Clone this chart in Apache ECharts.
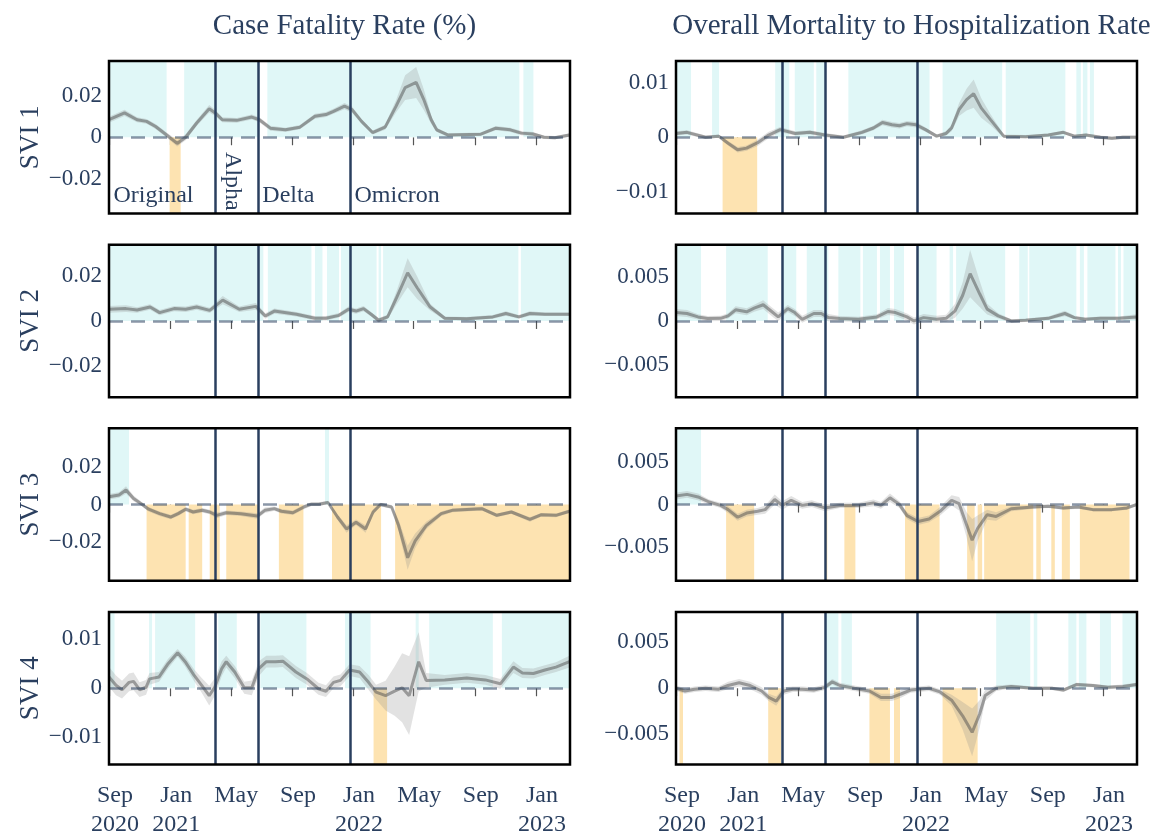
<!DOCTYPE html>
<html>
<head>
<meta charset="utf-8">
<script src="https://cdn.jsdelivr.net/npm/echarts@6/dist/echarts.min.js"></script>
<style>
  html, body { margin: 0; background: #fff; }
  #chart { width: 1163px; height: 836px; }
</style>
</head>
<body>
<div id="chart"></div>
<script>
// ---- data: [date, estimate, ci half width] ----
const colTitles = ['Case Fatality Rate (%)', 'Overall Mortality to Hospitalization Rate'];
const rowNames = ['SVI 1', 'SVI 2', 'SVI 3', 'SVI 4'];
const xTicks = ['2020-09-01', '2021-01-01', '2021-05-01', '2021-09-01', '2022-01-01', '2022-05-01', '2022-09-01', '2023-01-01'];
const xTickLabels = ['Sep\n2020', 'Jan\n2021', 'May', 'Sep', 'Jan\n2022', 'May', 'Sep', 'Jan\n2023'];
const variantDates = ['2021-04-01', '2021-06-24', '2021-12-25'];
const variantNames = ['Original', 'Alpha', 'Delta', 'Omicron'];

const cfrSvi1 = [
  ['2020-08-31', 0.0085, 0.0015], ['2020-10-01', 0.0118, 0.0015], ['2020-10-26', 0.0085, 0.0012],
  ['2020-11-14', 0.0077, 0.0012], ['2020-12-02', 0.0052, 0.0012], ['2020-12-24', 0.0011, 0.0012],
  ['2021-01-14', -0.003, 0.0015], ['2021-01-31', 0.0, 0.0015], ['2021-02-22', 0.0069, 0.0015],
  ['2021-03-19', 0.0138, 0.0018], ['2021-03-31', 0.0118, 0.0015], ['2021-04-14', 0.0085, 0.0012],
  ['2021-05-13', 0.0082, 0.0012], ['2021-06-12', 0.0098, 0.0012], ['2021-06-27', 0.0085, 0.0012],
  ['2021-07-19', 0.0044, 0.0012], ['2021-08-18', 0.0036, 0.001], ['2021-09-16', 0.0049, 0.001],
  ['2021-10-16', 0.0102, 0.0012], ['2021-11-07', 0.011, 0.0012], ['2021-11-22', 0.0126, 0.0012],
  ['2021-12-14', 0.0151, 0.0015], ['2021-12-29', 0.0134, 0.0015], ['2022-01-17', 0.0077, 0.0012],
  ['2022-02-08', 0.0023, 0.001], ['2022-03-05', 0.0049, 0.0012], ['2022-03-27', 0.0151, 0.003],
  ['2022-04-14', 0.0241, 0.006], ['2022-05-06', 0.0266, 0.0075], ['2022-05-21', 0.0184, 0.005],
  ['2022-06-05', 0.0085, 0.002], ['2022-06-16', 0.0036, 0.001], ['2022-07-08', 0.0011, 0.0008],
  ['2022-09-12', 0.0015, 0.0008], ['2022-10-12', 0.0044, 0.001], ['2022-11-10', 0.0036, 0.001],
  ['2022-12-02', 0.002, 0.001], ['2022-12-25', 0.0016, 0.001], ['2023-01-16', 0.0, 0.0008],
  ['2023-02-07', -0.0002, 0.0008], ['2023-03-08', 0.0011, 0.0008]
];
const mhrSvi1 = [
  ['2020-08-31', 0.0007, 0.0004], ['2020-09-22', 0.0009, 0.0004], ['2020-10-29', 0.0, 0.0003],
  ['2020-11-24', 0.0002, 0.0003], ['2020-12-13', -0.0011, 0.0004], ['2021-01-01', -0.0023, 0.0005],
  ['2021-01-19', -0.002, 0.0005], ['2021-02-10', -0.001, 0.0006], ['2021-03-04', 0.0004, 0.0006],
  ['2021-03-27', 0.0014, 0.0005], ['2021-04-26', 0.0007, 0.0004], ['2021-05-25', 0.0009, 0.0004],
  ['2021-06-24', 0.0004, 0.0004], ['2021-07-31', 0.0, 0.0003], ['2021-09-06', 0.0009, 0.0004],
  ['2021-09-29', 0.0017, 0.0004], ['2021-10-17', 0.0027, 0.0005], ['2021-11-05', 0.0023, 0.0005],
  ['2021-11-20', 0.0021, 0.0005], ['2021-12-05', 0.0025, 0.0005], ['2021-12-23', 0.0023, 0.0005],
  ['2022-01-11', 0.0014, 0.0004], ['2022-02-02', 0.0002, 0.0003], ['2022-02-21', 0.0007, 0.0004],
  ['2022-03-04', 0.0017, 0.0006], ['2022-03-19', 0.0051, 0.0012], ['2022-04-03', 0.0069, 0.002],
  ['2022-04-17', 0.008, 0.0026], ['2022-05-02', 0.0054, 0.0018], ['2022-05-21', 0.0032, 0.001],
  ['2022-06-16', 0.0002, 0.0003], ['2022-07-30', 0.0001, 0.0003], ['2022-09-13', 0.0004, 0.0003],
  ['2022-10-13', 0.0009, 0.0003], ['2022-11-04', 0.0002, 0.0003], ['2022-11-27', 0.0004, 0.0003],
  ['2022-12-26', 0.0, 0.0003], ['2023-01-18', -0.0002, 0.0003], ['2023-02-09', 0.0, 0.0003],
  ['2023-03-08', 0.0, 0.0003]
];
const cfrSvi2 = [
  ['2020-08-31', 0.0052, 0.0015], ['2020-10-04', 0.0055, 0.0015], ['2020-10-26', 0.0049, 0.0012],
  ['2020-11-21', 0.0062, 0.0012], ['2020-12-10', 0.0037, 0.0012], ['2021-01-08', 0.0055, 0.0012],
  ['2021-01-31', 0.0052, 0.0012], ['2021-02-22', 0.0062, 0.0012], ['2021-03-20', 0.0047, 0.0012],
  ['2021-04-15', 0.0093, 0.0018], ['2021-05-18', 0.0052, 0.0012], ['2021-06-20', 0.0065, 0.0015],
  ['2021-07-09', 0.0022, 0.0012], ['2021-07-27', 0.0044, 0.0012], ['2021-09-09', 0.003, 0.001],
  ['2021-10-16', 0.0012, 0.001], ['2021-11-07', 0.0012, 0.001], ['2021-12-03', 0.0025, 0.001],
  ['2021-12-22', 0.0052, 0.0012], ['2022-01-06', 0.0044, 0.0012], ['2022-01-21', 0.0055, 0.0012],
  ['2022-02-05', 0.003, 0.001], ['2022-02-20', 0.0003, 0.001], ['2022-03-10', 0.0018, 0.001],
  ['2022-03-28', 0.0104, 0.003], ['2022-04-19', 0.0215, 0.0065], ['2022-05-08', 0.0148, 0.005],
  ['2022-06-03', 0.0062, 0.0015], ['2022-07-02', 0.0012, 0.0008], ['2022-08-15', 0.001, 0.0008],
  ['2022-10-06', 0.0018, 0.0008], ['2022-11-01', 0.0033, 0.001], ['2022-11-27', 0.0018, 0.0008],
  ['2022-12-19', 0.0033, 0.001], ['2023-01-18', 0.003, 0.0008], ['2023-03-08', 0.003, 0.0008]
];
const mhrSvi2 = [
  ['2020-08-31', 0.00096, 0.0004], ['2020-09-22', 0.00085, 0.0004], ['2020-10-14', 0.00046, 0.0003],
  ['2020-11-02', 0.00027, 0.0003], ['2020-11-28', 0.0003, 0.0003], ['2020-12-13', 0.00058, 0.0003],
  ['2020-12-28', 0.00127, 0.0004], ['2021-01-19', 0.00104, 0.0004], ['2021-02-03', 0.00146, 0.0004],
  ['2021-02-21', 0.00185, 0.0005], ['2021-03-08', 0.00116, 0.0005], ['2021-03-23', 0.00046, 0.0005],
  ['2021-04-11', 0.00142, 0.0004], ['2021-04-25', 0.00096, 0.0004], ['2021-05-10', 0.00019, 0.0004],
  ['2021-06-02', 0.00085, 0.0004], ['2021-06-17', 0.00085, 0.0004], ['2021-07-01', 0.00038, 0.0004],
  ['2021-07-24', 0.00027, 0.0003], ['2021-08-30', 0.00019, 0.0003], ['2021-10-06', 0.00046, 0.0003],
  ['2021-10-28', 0.00108, 0.0004], ['2021-11-12', 0.00096, 0.0004], ['2021-12-05', 0.00046, 0.0004],
  ['2021-12-19', 0.0, 0.0004], ['2022-01-07', 0.00038, 0.0004], ['2022-02-02', 0.00019, 0.0004],
  ['2022-02-21', 0.0003, 0.0004], ['2022-03-11', 0.00116, 0.0008], ['2022-03-26', 0.0029, 0.0015],
  ['2022-04-10', 0.0054, 0.0027], ['2022-04-29', 0.0031, 0.0015], ['2022-05-14', 0.00135, 0.0006],
  ['2022-06-05', 0.00058, 0.0003], ['2022-07-01', 0.0, 0.0002], ['2022-07-30', 0.00008, 0.0002],
  ['2022-09-13', 0.0003, 0.0002], ['2022-10-16', 0.00085, 0.0003], ['2022-11-04', 0.00038, 0.0002],
  ['2022-11-26', 0.00019, 0.0002], ['2022-12-26', 0.0003, 0.0002], ['2023-02-01', 0.0003, 0.0002],
  ['2023-03-08', 0.00046, 0.0003]
];
const cfrSvi3 = [
  ['2020-08-31', 0.0042, 0.0015], ['2020-09-20', 0.0051, 0.0015], ['2020-10-04', 0.0078, 0.002],
  ['2020-10-19', 0.0033, 0.0015], ['2020-11-03', 0.0005, 0.0012], ['2020-11-18', -0.0025, 0.0012],
  ['2020-12-10', -0.0049, 0.0012], ['2021-01-01', -0.0067, 0.0012], ['2021-01-16', -0.0049, 0.0012],
  ['2021-01-31', -0.0025, 0.0012], ['2021-02-15', -0.004, 0.0012], ['2021-03-05', -0.0031, 0.0012],
  ['2021-03-20', -0.004, 0.0012], ['2021-04-03', -0.0058, 0.0015], ['2021-04-22', -0.0044, 0.0012],
  ['2021-05-21', -0.0049, 0.0012], ['2021-06-23', -0.0062, 0.0015], ['2021-07-08', -0.0031, 0.0015],
  ['2021-07-27', -0.0022, 0.0012], ['2021-08-10', -0.0036, 0.0012], ['2021-09-02', -0.0044, 0.0012],
  ['2021-09-24', -0.0013, 0.0012], ['2021-10-09', 0.0002, 0.001], ['2021-10-24', 0.0002, 0.001],
  ['2021-11-11', 0.0011, 0.001], ['2021-11-30', -0.0067, 0.0015], ['2021-12-18', -0.0131, 0.002],
  ['2022-01-06', -0.0095, 0.0015], ['2022-01-25', -0.0131, 0.002], ['2022-02-09', -0.004, 0.0015],
  ['2022-02-24', 0.0, 0.001], ['2022-03-18', -0.0013, 0.001], ['2022-04-01', -0.0113, 0.003],
  ['2022-04-19', -0.0286, 0.0065], ['2022-05-04', -0.0195, 0.004], ['2022-05-26', -0.0113, 0.002],
  ['2022-06-25', -0.0049, 0.0012], ['2022-07-17', -0.0031, 0.001], ['2022-09-14', -0.0022, 0.001],
  ['2022-10-14', -0.0058, 0.001], ['2022-11-12', -0.004, 0.001], ['2022-12-19', -0.008, 0.0012],
  ['2023-01-10', -0.0055, 0.001], ['2023-02-09', -0.0058, 0.001], ['2023-03-08', -0.0036, 0.001]
];
const mhrSvi3 = [
  ['2020-08-31', 0.001, 0.0004], ['2020-09-22', 0.0012, 0.0004], ['2020-10-14', 0.0009, 0.0004],
  ['2020-11-05', 0.0003, 0.0003], ['2020-11-28', -0.0001, 0.0003], ['2020-12-13', -0.0006, 0.0004],
  ['2021-01-01', -0.0015, 0.0004], ['2021-01-19', -0.001, 0.0004], ['2021-02-10', -0.0008, 0.0004],
  ['2021-02-25', -0.0006, 0.0005], ['2021-03-16', 0.0006, 0.0006], ['2021-03-31', -0.0001, 0.0005],
  ['2021-04-18', 0.0005, 0.0005], ['2021-05-10', -0.0001, 0.0004], ['2021-05-29', 0.0001, 0.0004],
  ['2021-06-24', -0.0004, 0.0004], ['2021-07-24', -0.0001, 0.0003], ['2021-08-30', -0.0001, 0.0003],
  ['2021-09-29', 0.0002, 0.0004], ['2021-10-14', -0.0001, 0.0004], ['2021-11-01', 0.0008, 0.0005],
  ['2021-11-20', 0.0, 0.0004], ['2021-12-05', -0.0013, 0.0004], ['2021-12-27', -0.002, 0.0004],
  ['2022-01-18', -0.0017, 0.0004], ['2022-02-09', -0.0008, 0.0005], ['2022-03-04', 0.0005, 0.0006],
  ['2022-03-19', 0.0001, 0.0008], ['2022-04-03', -0.0024, 0.0015], ['2022-04-14', -0.0042, 0.0025],
  ['2022-04-25', -0.0028, 0.0015], ['2022-05-14', -0.0012, 0.0006], ['2022-06-01', -0.0014, 0.0005],
  ['2022-07-01', -0.0005, 0.0003], ['2022-08-14', -0.0003, 0.0002], ['2022-09-13', -0.0002, 0.0002],
  ['2022-10-13', -0.0004, 0.0002], ['2022-11-12', -0.0003, 0.0002], ['2022-12-11', -0.0006, 0.0002],
  ['2023-01-18', -0.0006, 0.0002], ['2023-02-17', -0.0004, 0.0002], ['2023-03-08', 0.0, 0.0002]
];
const cfrSvi4 = [
  ['2020-08-31', 0.0023, 0.002], ['2020-09-14', 0.0006, 0.002], ['2020-09-26', -0.0003, 0.0018],
  ['2020-10-10', 0.0012, 0.0018], ['2020-10-19', 0.0014, 0.0018], ['2020-10-31', -0.0003, 0.0015],
  ['2020-11-13', 0.0002, 0.0015], ['2020-11-20', 0.0019, 0.0012], ['2020-12-09', 0.0023, 0.001],
  ['2020-12-27', 0.005, 0.001], ['2021-01-15', 0.0072, 0.0008], ['2021-01-30', 0.0054, 0.001],
  ['2021-02-17', 0.0026, 0.0012], ['2021-03-04', 0.0006, 0.0015], ['2021-03-19', -0.0015, 0.002],
  ['2021-03-30', 0.0002, 0.0018], ['2021-04-13', 0.004, 0.0015], ['2021-04-22', 0.0054, 0.0012],
  ['2021-05-09', 0.0033, 0.0012], ['2021-05-28', 0.0001, 0.0012], ['2021-06-12', 0.0001, 0.0015],
  ['2021-06-26', 0.004, 0.0015], ['2021-07-11', 0.0054, 0.0012], ['2021-07-29', 0.0054, 0.0012],
  ['2021-08-13', 0.0055, 0.0012], ['2021-09-08', 0.0033, 0.0012], ['2021-09-30', 0.0019, 0.0012],
  ['2021-10-23', -0.0001, 0.0012], ['2021-11-07', -0.0006, 0.0012], ['2021-11-22', 0.0012, 0.0012],
  ['2021-12-06', 0.0016, 0.0012], ['2021-12-24', 0.0037, 0.0012], ['2022-01-13', 0.0033, 0.0012],
  ['2022-01-31', 0.0012, 0.0015], ['2022-02-15', -0.0008, 0.0015], ['2022-03-06', -0.0015, 0.003],
  ['2022-03-24', -0.0006, 0.005], ['2022-04-08', 0.0001, 0.007], ['2022-04-22', -0.0015, 0.008],
  ['2022-05-11', 0.0054, 0.006], ['2022-05-26', 0.0016, 0.0015], ['2022-07-02', 0.0017, 0.001],
  ['2022-08-15', 0.0021, 0.001], ['2022-09-21', 0.0017, 0.001], ['2022-10-21', 0.0009, 0.001],
  ['2022-11-16', 0.0043, 0.0012], ['2022-12-04', 0.0031, 0.001], ['2022-12-26', 0.003, 0.001],
  ['2023-01-18', 0.0037, 0.001], ['2023-02-09', 0.0043, 0.001], ['2023-03-08', 0.0054, 0.0012]
];
const mhrSvi4 = [
  ['2020-08-31', 0.0, 0.0003], ['2020-09-18', -0.0003, 0.0003], ['2020-10-07', -0.0001, 0.0003],
  ['2020-10-29', 0.0, 0.0003], ['2020-11-24', -0.0001, 0.0003], ['2020-12-13', 0.0003, 0.0004],
  ['2021-01-04', 0.0006, 0.0004], ['2021-01-26', 0.0003, 0.0004], ['2021-02-18', -0.0003, 0.0004],
  ['2021-03-04', -0.001, 0.0004], ['2021-03-19', -0.0014, 0.0005], ['2021-04-03', -0.0003, 0.0004],
  ['2021-04-21', -0.0001, 0.0003], ['2021-05-10', -0.0001, 0.0003], ['2021-06-02', -0.0002, 0.0003],
  ['2021-06-24', 0.0001, 0.0003], ['2021-07-09', 0.0007, 0.0003], ['2021-07-24', 0.0003, 0.0003],
  ['2021-08-22', 0.0, 0.0003], ['2021-09-21', -0.0003, 0.0003], ['2021-10-14', -0.001, 0.0004],
  ['2021-11-05', -0.001, 0.0004], ['2021-11-24', -0.0006, 0.0004], ['2021-12-12', -0.0002, 0.0003],
  ['2021-12-27', -0.0001, 0.0003], ['2022-01-18', 0.0, 0.0003], ['2022-02-09', -0.0004, 0.0003],
  ['2022-03-04', -0.0013, 0.0006], ['2022-03-26', -0.003, 0.0015], ['2022-04-14', -0.0048, 0.0026],
  ['2022-04-29', -0.0028, 0.0015], ['2022-05-10', -0.0008, 0.0006], ['2022-06-01', 0.0, 0.0003],
  ['2022-07-01', 0.0002, 0.0002], ['2022-08-14', 0.0, 0.0002], ['2022-09-20', 0.0, 0.0002],
  ['2022-10-13', -0.0002, 0.0002], ['2022-11-08', 0.0004, 0.0002], ['2022-12-11', 0.0003, 0.0002],
  ['2023-01-10', 0.0001, 0.0002], ['2023-02-09', 0.0002, 0.0002], ['2023-03-08', 0.0004, 0.0002]
];

// periods where the estimate is significantly above / below zero
const cfrSvi1Pos = [['2020-08-31', '2020-12-24'], ['2021-01-28', '2021-06-27'], ['2021-07-13', '2022-11-28'], ['2022-12-06', '2022-12-26']];
const cfrSvi1Neg = [['2020-12-30', '2021-01-21']];
const mhrSvi1Pos = [['2020-08-31', '2020-09-30'], ['2020-11-11', '2020-11-25'], ['2021-03-17', '2021-04-14'], ['2021-04-25', '2021-06-02'],
  ['2021-06-07', '2021-06-25'], ['2021-08-10', '2022-01-19'], ['2022-02-14', '2022-06-13'], ['2022-06-20', '2022-10-17'],
  ['2022-11-08', '2022-11-17'], ['2022-11-21', '2022-11-30'], ['2022-12-05', '2022-12-13']];
const mhrSvi1Neg = [['2020-12-02', '2021-02-09']];
const cfrSvi2Pos = [['2020-08-31', '2021-07-05'], ['2021-07-14', '2021-10-09'], ['2021-10-16', '2021-10-31'], ['2021-11-09', '2021-12-03'],
  ['2021-12-07', '2022-02-16'], ['2022-02-20', '2022-02-25'], ['2022-03-01', '2022-11-26'], ['2022-12-01', '2023-03-09']];
const cfrSvi2Neg = [];
const mhrSvi2Pos = [['2020-08-31', '2020-10-20'], ['2020-12-09', '2021-03-02'], ['2021-04-02', '2021-04-28'], ['2021-05-19', '2021-07-01'],
  ['2021-07-21', '2021-09-03'], ['2021-09-08', '2021-10-06'], ['2021-10-12', '2021-11-01'], ['2021-11-09', '2021-11-29'],
  ['2021-12-27', '2022-02-02'], ['2022-02-28', '2022-03-07'], ['2022-03-13', '2022-06-19'], ['2022-07-17', '2022-08-03'],
  ['2022-08-06', '2022-11-08'], ['2022-11-15', '2022-11-23'], ['2022-11-30', '2023-01-25'], ['2023-01-30', '2023-02-05'],
  ['2023-02-10', '2023-03-09']];
const mhrSvi2Neg = [];
const cfrSvi3Pos = [['2020-08-31', '2020-10-10'], ['2021-11-05', '2021-11-13']];
const cfrSvi3Neg = [['2020-11-14', '2021-01-31'], ['2021-02-06', '2021-03-05'], ['2021-03-20', '2021-04-09'], ['2021-04-22', '2021-06-25'],
  ['2021-08-05', '2021-09-23'], ['2021-11-19', '2022-02-25'], ['2022-03-25', '2023-03-09']];
const mhrSvi3Pos = [['2020-08-31', '2020-10-20']];
const mhrSvi3Neg = [['2020-12-09', '2021-02-03'], ['2021-06-24', '2021-06-29'], ['2021-08-02', '2021-08-24'], ['2021-12-01', '2022-02-08'],
  ['2022-04-04', '2022-04-19'], ['2022-04-25', '2022-05-04'], ['2022-05-08', '2022-08-14'], ['2022-08-20', '2022-08-29'],
  ['2022-09-19', '2022-09-26'], ['2022-10-10', '2022-10-26'], ['2022-11-15', '2023-02-22']];
const cfrSvi4Pos = [['2020-08-31', '2020-09-11'], ['2020-11-19', '2020-11-25'], ['2020-12-01', '2021-02-19'], ['2021-04-06', '2021-05-13'],
  ['2021-06-29', '2021-09-29'], ['2021-12-15', '2022-02-04'], ['2022-05-05', '2022-05-11'], ['2022-06-01', '2022-10-06'],
  ['2022-10-24', '2023-03-09']];
const cfrSvi4Neg = [['2022-02-10', '2022-03-09']];
const mhrSvi4Pos = [['2021-06-25', '2021-07-21'], ['2021-07-27', '2021-08-17'], ['2022-06-01', '2022-08-08'], ['2022-08-15', '2022-08-22'],
  ['2022-10-23', '2022-11-08'], ['2022-11-13', '2022-11-28'], ['2022-12-25', '2023-01-16'], ['2023-02-08', '2023-03-09']];
const mhrSvi4Neg = [['2020-09-07', '2020-09-14'], ['2021-03-03', '2021-03-29'], ['2021-09-21', '2021-11-01'], ['2021-11-09', '2021-11-21'],
  ['2022-02-14', '2022-04-25']];

// ---- layout / styles ----
const FONT = 'Liberation Serif';
const INK = '#2a3f5f';
const POS = '#e0f7f7';
const NEG = '#fde3b1';
const xMin = '2020-08-31';
const xMax = '2023-03-09';
const colLeft = [109, 676];
const rowTop = [61, 244.7, 428.3, 612];
const gridW = 461;
const gridH = 152.5;

const t = s => Date.parse(s + 'T00:00:00Z');
const xTickTs = xTicks.map(t);

// panels in row order, left then right
const panels = [
  { data: cfrSvi1, pos: cfrSvi1Pos, neg: cfrSvi1Neg, yMax: 0.037, yTicks: [-0.02, 0, 0.02] },
  { data: mhrSvi1, pos: mhrSvi1Pos, neg: mhrSvi1Neg, yMax: 0.014, yTicks: [-0.01, 0, 0.01] },
  { data: cfrSvi2, pos: cfrSvi2Pos, neg: cfrSvi2Neg, yMax: 0.034, yTicks: [-0.02, 0, 0.02] },
  { data: mhrSvi2, pos: mhrSvi2Pos, neg: mhrSvi2Neg, yMax: 0.0087, yTicks: [-0.005, 0, 0.005] },
  { data: cfrSvi3, pos: cfrSvi3Pos, neg: cfrSvi3Neg, yMax: 0.041, yTicks: [-0.02, 0, 0.02] },
  { data: mhrSvi3, pos: mhrSvi3Pos, neg: mhrSvi3Neg, yMax: 0.009, yTicks: [-0.005, 0, 0.005] },
  { data: cfrSvi4, pos: cfrSvi4Pos, neg: cfrSvi4Neg, yMax: 0.0155, yTicks: [-0.01, 0, 0.01] },
  { data: mhrSvi4, pos: mhrSvi4Pos, neg: mhrSvi4Neg, yMax: 0.0083, yTicks: [-0.005, 0, 0.005] }
];

const fmtY = v => Math.abs(v) < 1e-12 ? '0' : (v < 0 ? '\u2212' : '') + String(Math.abs(v));
const fmtX = v => {
  const i = xTickTs.findIndex(x => Math.abs(x - v) < 3600e3);
  return i < 0 ? '' : xTickLabels[i];
};

const grids = [], xAxes = [], yAxes = [], series = [];

panels.forEach((p, i) => {
  const row = Math.floor(i / 2), col = i % 2;
  grids.push({
    left: colLeft[col], top: rowTop[row], width: gridW, height: gridH,
    show: true, borderColor: '#000', borderWidth: 2.5, backgroundColor: 'transparent',
    z: 10, outerBoundsMode: 'none'
  });
  // timestamps on a value axis so the tick dates can be given exactly
  xAxes.push({
    type: 'value', gridIndex: i, min: t(xMin), max: t(xMax),
    axisLine: { show: false },
    splitLine: { show: false },
    axisTick: { show: true, customValues: xTickTs, length: 8, lineStyle: { color: '#555', width: 1.2 } },
    axisLabel: {
      show: row === 3, customValues: xTickTs, formatter: fmtX,
      showMinLabel: true, showMaxLabel: true, hideOverlap: false,
      fontFamily: FONT, fontSize: 24, color: INK, lineHeight: 29, margin: 17, padding: [0, 0, 0, 11]
    }
  });
  yAxes.push({
    type: 'value', gridIndex: i, min: -p.yMax, max: p.yMax,
    axisLine: { show: false }, axisTick: { show: false }, splitLine: { show: false },
    axisLabel: { customValues: p.yTicks, formatter: fmtY, fontFamily: FONT, fontSize: 23, color: INK, margin: 7 },
    name: col === 0 ? rowNames[row] : '',
    nameLocation: 'middle', nameGap: 64,
    nameTextStyle: { fontFamily: FONT, fontSize: 27, color: INK }
  });

  // shaded significance periods
  const regions = p.pos.map(r => [t(r[0]), t(r[1]), 1]).concat(p.neg.map(r => [t(r[0]), t(r[1]), -1]));
  series.push({
    type: 'custom', xAxisIndex: i, yAxisIndex: i, z: 1, silent: true,
    data: regions, encode: { x: [0, 1], y: 2 },
    renderItem: (params, api) => {
      const s = api.value(2);
      const a = api.coord([api.value(0), s > 0 ? p.yMax : 0]);
      const b = api.coord([api.value(1), s > 0 ? 0 : -p.yMax]);
      return { type: 'rect', shape: { x: a[0], y: a[1], width: b[0] - a[0], height: b[1] - a[1] }, style: { fill: s > 0 ? POS : NEG } };
    }
  });

  // confidence band
  const band = p.data.map(r => [t(r[0]), r[1] - r[2], r[1] + r[2]]);
  series.push({
    type: 'custom', xAxisIndex: i, yAxisIndex: i, z: 2, silent: true,
    data: band, encode: { x: 0, y: [1, 2] },
    renderItem: (params, api) => {
      if (params.dataIndex !== 0) return null;
      const upper = band.map(r => api.coord([r[0], r[2]]));
      const lower = band.slice().reverse().map(r => api.coord([r[0], r[1]]));
      return { type: 'polygon', shape: { points: upper.concat(lower) }, style: { fill: 'rgba(140,140,140,0.25)' } };
    }
  });

  // estimate line, zero line, variant lines
  series.push({
    type: 'line', xAxisIndex: i, yAxisIndex: i, z: 3, silent: true,
    data: p.data.map(r => [t(r[0]), r[1]]),
    showSymbol: false,
    lineStyle: { color: 'rgba(80,80,80,0.5)', width: 3 },
    markLine: {
      silent: true, symbol: 'none', animation: false, label: { show: false },
      data: [{ yAxis: 0, lineStyle: { color: 'rgba(42,63,95,0.55)', width: 2.5, type: [14, 8] } }]
        .concat(variantDates.map(d => ({ xAxis: t(d), lineStyle: { color: INK, width: 2.5, type: 'solid' } })))
    }
  });
});

// variant names in the first panel
const labY = -0.0283, alphaY = -0.0072;
series.push({
  type: 'scatter', xAxisIndex: 0, yAxisIndex: 0, z: 12, silent: true,
  symbolSize: 1, itemStyle: { color: 'transparent' },
  label: { show: true, position: 'right', distance: 4, fontFamily: FONT, fontSize: 24, color: INK, opacity: 1, textBorderWidth: 0 },
  data: [
    { value: [t(xMin), labY], label: { formatter: variantNames[0] } },
    { value: [t(variantDates[0]), alphaY], label: { formatter: variantNames[1], rotate: -90, align: 'left', verticalAlign: 'bottom' } },
    { value: [t(variantDates[1]), labY], label: { formatter: variantNames[2] } },
    { value: [t(variantDates[2]), labY], label: { formatter: variantNames[3] } }
  ]
});

const chart = echarts.init(document.getElementById('chart'));
chart.setOption({
  animation: false,
  backgroundColor: '#fff',
  title: colTitles.map((txt, c) => ({
    text: txt, left: colLeft[c] + gridW / 2, top: 7, textAlign: 'center',
    textStyle: { fontFamily: FONT, fontSize: 29, fontWeight: 'normal', color: INK }
  })),
  grid: grids,
  xAxis: xAxes,
  yAxis: yAxes,
  series: series
});
</script>
</body>
</html>
